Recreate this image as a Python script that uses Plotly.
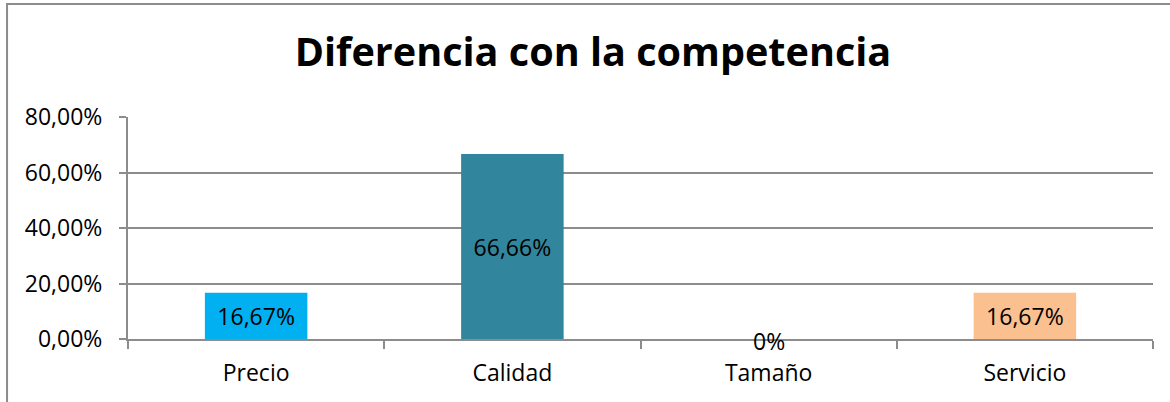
import plotly.graph_objects as go

# Data
categorias = ["Precio", "Calidad", "Tamaño", "Servicio"]
valores = [16.67, 66.66, 0, 16.67]
etiquetas = ["16,67%", "66,66%", "0%", "16,67%"]
colores = ["#00B0F0", "#31859C", "#4F81BD", "#FAC090"]

FONT = "Open Sans"
GRIS = "#8C8C8C"
TXT = 23

fig = go.Figure()

fig.add_trace(go.Bar(
    x=categorias,
    y=valores,
    marker=dict(color=colores, line=dict(width=0)),
    text=[e if v > 0 else "" for e, v in zip(etiquetas, valores)],
    textposition="inside",
    insidetextanchor="middle",
    textangle=0,
    textfont=dict(family=FONT, size=TXT, color="black"),
    hoverinfo="skip",
))

# label for zero-height bar, sits on the baseline
for c, v, e in zip(categorias, valores, etiquetas):
    if v == 0:
        fig.add_annotation(x=c, y=v, text=e, showarrow=False,
                           yanchor="middle", yshift=-2,
                           font=dict(family=FONT, size=TXT, color="black"))

# chart frame (left and top edges visible)
fig.add_shape(type="rect", xref="paper", yref="paper",
              x0=-0.118, x1=1.2, y0=-0.5, y1=1.509,
              line=dict(color=GRIS, width=2), layer="below")

fig.update_layout(
    width=1170, height=402,
    margin=dict(l=128, r=17, t=117, b=63),
    paper_bgcolor="white", plot_bgcolor="white",
    separators=",.",
    showlegend=False,
    bargap=0.6,
    font=dict(family=FONT, size=TXT, color="black"),
    title=dict(text="<b>Diferencia con la competencia</b>",
               x=593 / 1170, xanchor="center", y=1 - 52 / 402, yanchor="middle",
               font=dict(family=FONT, size=39.6, color="black")),
)

fig.update_xaxes(
    showline=True, linecolor=GRIS, linewidth=2,
    ticks="outside", tickson="boundaries", ticklen=8, tickcolor=GRIS, tickwidth=2,
    ticklabelstandoff=12,
    showgrid=False, zeroline=False,
    tickfont=dict(family=FONT, size=TXT, color="black"),
)
fig.update_yaxes(
    range=[0, 80], dtick=20, tickformat=".2f", ticksuffix="%",
    showline=True, linecolor=GRIS, linewidth=2,
    ticks="outside", ticklen=7, tickcolor=GRIS, tickwidth=2,
    ticklabelstandoff=12,
    showgrid=True, gridcolor=GRIS, gridwidth=2, zeroline=False,
    tickfont=dict(family=FONT, size=TXT, color="black"),
)

fig.write_html("out.html", config={"displayModeBar": False},
               post_script="document.body.style.margin='0';")
